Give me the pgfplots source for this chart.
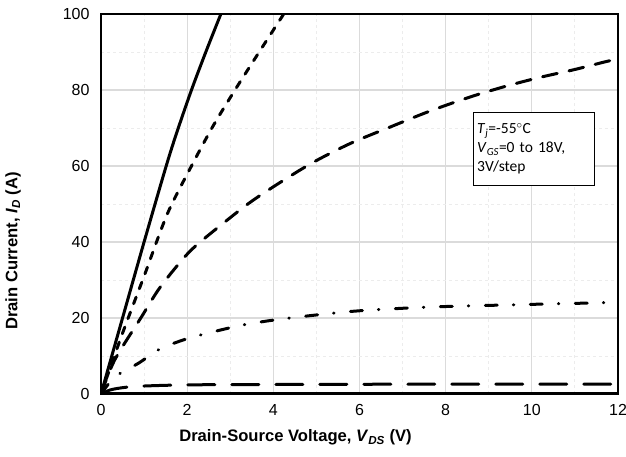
\documentclass[border=0pt]{standalone}
\usepackage{pgfplots}
\pgfplotsset{compat=1.18}
\usepackage{fontspec}
\setmainfont{Liberation Sans}
\newfontfamily\calfont{Carlito}
\begin{document}
\begin{tikzpicture}
\begin{axis}[
  scale only axis,
  width=517pt, height=380pt,
  xmin=0, xmax=12, ymin=0, ymax=100,
  xtick={0,2,...,12}, ytick={0,20,...,100},
  minor x tick num=1, minor y tick num=1,
  grid=both,
  major grid style={gray!28, line width=1.2pt},
  minor grid style={gray!15, line width=0.9pt, dash pattern=on 3pt off 3pt},
  major tick length=0pt, minor tick length=0pt,
  axis line style={black, line width=2pt},
  /pgf/number format/assume math mode=true,
  ticklabel style={font=\fontsize{16}{16}\selectfont},
  xticklabel style={yshift=-7pt},
  yticklabel style={xshift=-8pt},
  xlabel={\textbf{Drain-Source Voltage, \textit{V}\textsubscript{\textit{DS}} (V)}},
  ylabel={\textbf{Drain Current, \textit{I}\textsubscript{\textit{D}} (A)}},
  label style={font=\fontsize{16.6}{17}\selectfont},
  xlabel style={at={(ticklabel cs:0.5)}, anchor=north, yshift=-7pt, xshift=-64pt},
  ylabel style={at={(ticklabel cs:0.5)}, anchor=south, yshift=35pt, xshift=-47pt},
  clip=true,
  every axis plot/.append style={black, line width=3pt, line cap=round, line join=round, mark=none},
]
% VGS = 18 V
\addplot[solid, smooth, tension=0.5] coordinates {(0,0) (0.5,20) (1,40) (1.5,59.5) (1.75,68.5) (2.1,80) (2.45,90.5) (2.8,100.5)};
% VGS = 15 V
\addplot[dash pattern=on 7pt off 9pt, smooth, tension=0.5] coordinates {(0,0) (0.5,16) (1,31) (1.54,47.4) (2.1,60) (2.6,70.5) (3.11,80) (3.7,90.5) (4.27,100.5)};
% VGS = 12 V
\addplot[dash pattern=on 15pt off 12pt, smooth, tension=0.5] coordinates {(0,0) (0.32,9) (0.94,20.3) (1.33,27.4) (1.75,33.5) (2.18,38.8) (3.11,47.4) (3.57,51.3) (4.19,55.9) (4.93,61) (5.8,66) (6.7,70.2) (7.6,74.3) (8.55,78.1) (9.4,81) (10.18,83.3) (11,85.4) (11.66,87.3) (12,88.2)};
% VGS = 9 V
\addplot[dash pattern=on 12pt off 16pt on 0.5pt off 16.5pt, smooth, tension=0.5] coordinates {(0,0) (0.2,3) (0.44,5.4) (0.87,8.1) (1.33,11.6) (1.8,13.8) (2.3,15.5) (3.31,18.2) (4.31,19.9) (5.78,21.7) (6.9,22.5) (7.94,23.0) (10.03,23.6) (12,24.1)};
% VGS = 6 V
\addplot[dash pattern=on 27pt off 17pt, smooth, tension=0.5] coordinates {(0,0) (0.15,0.8) (0.3,1.3) (0.6,1.8) (1,2.1) (2,2.4) (4,2.5) (8,2.6) (12,2.6)};
% VGS = 3 V and 0 V
\addplot[solid] coordinates {(0,0) (12,0)};
\node[draw=black, line width=0.8pt, fill=white, anchor=north west, align=left,
      inner xsep=4pt, inner ysep=11pt, text width=113pt,
      font=\calfont\fontsize{15.5}{19}\selectfont]
  at (axis cs:8.63,74.1)
  {\textit{T}\textsubscript{\textit{j}}=-55\textsuperscript{$\circ$}C\\
   \textit{V}\textsubscript{\textit{GS}}=0 to 18V,\\
   3V/step};
\end{axis}
\pgfresetboundingbox
\path (current axis.south west) ++(-101pt,-63pt) rectangle ++(626pt,457pt);
\end{tikzpicture}
\end{document}
